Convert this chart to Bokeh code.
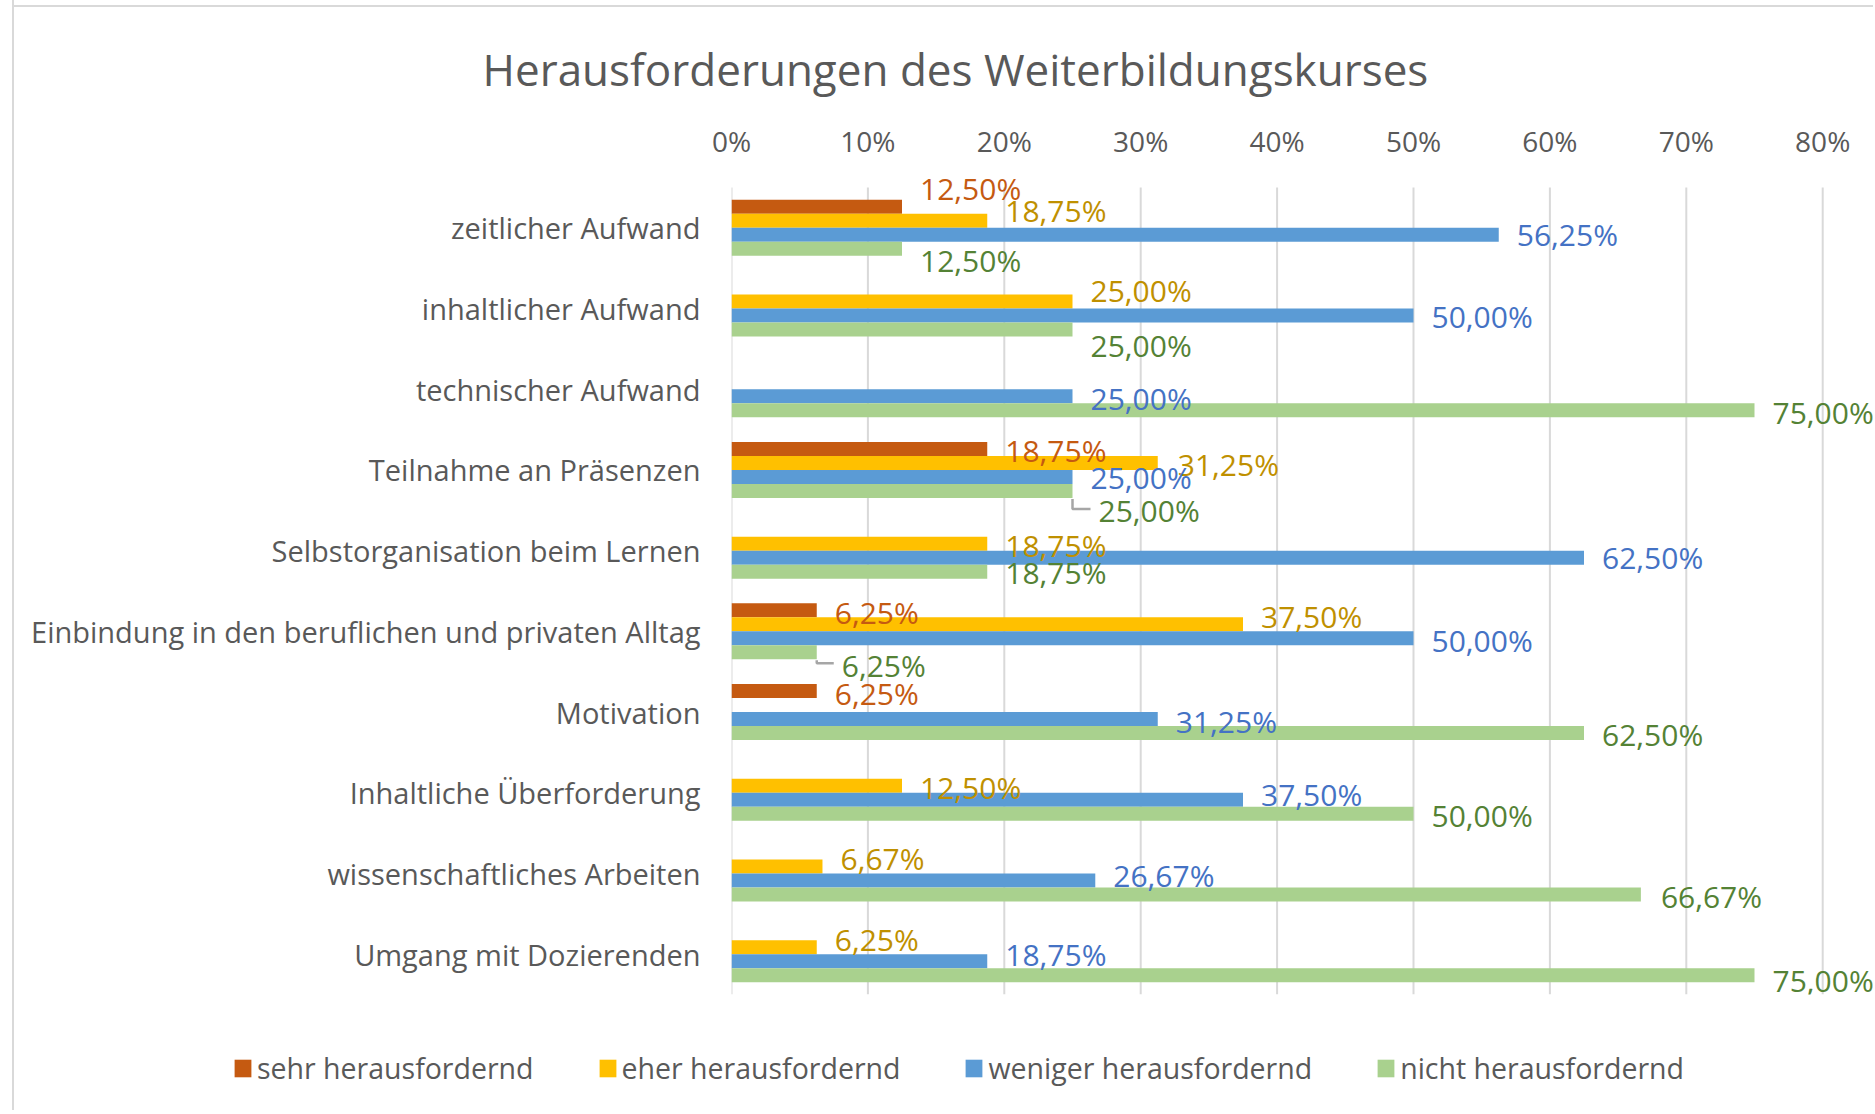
from bokeh.plotting import figure
from bokeh.models import (Range1d, FixedTicker, PrintfTickFormatter,
                          Legend, LegendItem, ColumnDataSource)
from bokeh.core.properties import value
from bokeh.embed import file_html
from bokeh.resources import INLINE

# ---------------- data ----------------
categories = [
    "zeitlicher Aufwand",
    "inhaltlicher Aufwand",
    "technischer Aufwand",
    "Teilnahme an Präsenzen",
    "Selbstorganisation beim Lernen",
    "Einbindung in den beruflichen und privaten Alltag",
    "Motivation",
    "Inhaltliche Überforderung",
    "wissenschaftliches Arbeiten",
    "Umgang mit Dozierenden",
]
series_names = ["sehr herausfordernd", "eher herausfordernd",
                "weniger herausfordernd", "nicht herausfordernd"]
sehr = [12.50, 0, 0, 18.75, 0, 6.25, 6.25, 0, 0, 0]
eher = [18.75, 25.00, 0, 31.25, 18.75, 37.50, 0, 12.50, 6.67, 6.25]
weniger = [56.25, 50.00, 25.00, 25.00, 62.50, 50.00, 31.25, 37.50, 26.67, 18.75]
nicht = [12.50, 25.00, 75.00, 25.00, 18.75, 6.25, 62.50, 50.00, 66.67, 75.00]
x_ticks = [0, 10, 20, 30, 40, 50, 60, 70, 80]
title_text = "Herausforderungen des Weiterbildungskurses"

# ---------------- styles ----------------
bar_colors = ["#C55A11", "#FFC000", "#5B9BD5", "#A9D18E"]
label_colors = ["#C55A11", "#BF9000", "#4472C4", "#548235"]
# label nudges in screen pixels (positive = down), per series and category
label_dy = [
    [-18, 2, 2, 2, 2, 2, 2, 2, 2, 2],
    [-10, -11, 2, 2, 2, -8, 2, 2, -8, -8],
    [0, 1, 2, 1, 0, 2, 2, -5, -5, -7],
    [12, 16, 2, 20, 1, 13, 1, 2, 2, 5],
]
label_dx = [
    [18, 18, 18, 18, 18, 18, 18, 18, 18, 18],
    [18, 18, 18, 20, 18, 18, 18, 18, 18, 18],
    [18, 18, 18, 18, 18, 18, 18, 18, 18, 18],
    [18, 18, 18, 26, 18, 25, 18, 18, 20, 18],
]
leaders = [(3, 3), (3, 5)]  # (series, category) with leader lines

W = 1861
LEFT, TOP, BOTTOM = 717, 165, 10
CAT_PX = 80.7
EXTRA_TOP = 22
n = len(categories)
FRAME_H = int(round(CAT_PX * n)) + EXTRA_TOP
H_MAIN = TOP + FRAME_H + BOTTOM
H_LEG = 106
frame_w = W - LEFT
px_per_pct = 13.64
x_end = frame_w / px_per_pct
y_top = n - 0.5 + EXTRA_TOP / CAT_PX
BAR_PX = 14
h = BAR_PX / CAT_PX

FONT = "Open Sans"
GREY = "#595959"
GRID = "#D9D9D9"
LABEL_FS = "29px"

p = figure(width=W, height=H_MAIN, output_backend="svg", toolbar_location=None,
           y_range=Range1d(-0.5, y_top), x_range=Range1d(0, x_end),
           x_axis_location="above",
           min_border_left=LEFT, min_border_top=TOP, min_border_bottom=BOTTOM,
           min_border_right=0)
p.outline_line_color = None
p.background_fill_color = "white"
p.border_fill_alpha = 0
p.styles = {"margin-left": "12px", "border-left": f"2px solid {GRID}",
            "background": f"linear-gradient({GRID}, {GRID}) 0 5px / 100% 2px no-repeat, white"}

# vertical grid lines spanning the category area
p.segment(x0=x_ticks, x1=x_ticks, y0=-0.5, y1=n - 0.5,
          line_color=GRID, line_width=2, level="underlay")

series_vals = [sehr, eher, weniger, nicht]
sources = []
for k, vals in enumerate(series_vals):
    off = (1.5 - k) * h
    rows = [i for i in range(n) if vals[i] > 0]
    src = ColumnDataSource(dict(
        y=[(n - 1 - i) + off for i in rows],
        val=[vals[i] for i in rows],
        lab=[f"{vals[i]:.2f}".replace(".", ",") + "%" for i in rows],
        dx=[label_dx[k][i] for i in rows],
        dy=[label_dy[k][i] for i in rows],
    ))
    sources.append(src)
    p.hbar(y="y", left=0, right="val", height=h, fill_color=bar_colors[k],
           line_color=None, source=src)

# leader lines
lx, ly = [], []
for (k, i) in leaders:
    v = series_vals[k][i]
    yb = (n - 1 - i) + (1.5 - k) * h
    y0 = yb - (BAR_PX / 2 + 1) / CAT_PX
    y1 = yb - (label_dy[k][i] - 2) / CAT_PX
    x1 = v + (label_dx[k][i] - 8) / px_per_pct
    lx.append([v, v, x1])
    ly.append([y0, y1, y1])
p.multi_line(xs=lx, ys=ly, line_color="#A6A6A6", line_width=2.5)

# data labels on top of all bars
for k, src in enumerate(sources):
    p.text(x="val", y="y", text="lab", x_offset="dx", y_offset="dy", source=src,
           text_font=value(FONT), text_font_size="30px",
           text_color=label_colors[k], text_align="left",
           text_baseline="middle")

# axes
p.xaxis.ticker = FixedTicker(ticks=x_ticks)
p.xaxis.formatter = PrintfTickFormatter(format="%d%%")
p.xaxis.axis_line_color = None
p.xaxis.major_tick_line_color = None
p.xaxis.minor_tick_line_color = None
p.xaxis.major_label_text_font = FONT
p.xaxis.major_label_text_font_size = "28px"
p.xaxis.major_label_text_color = GREY
p.xaxis.major_label_standoff = 0

p.yaxis.ticker = FixedTicker(ticks=list(range(n)))
p.yaxis.major_label_overrides = {n - 1 - i: categories[i] for i in range(n)}
p.yaxis.axis_line_color = None
p.yaxis.major_tick_line_color = None
p.yaxis.minor_tick_line_color = None
p.yaxis.major_tick_out = 0
p.yaxis.major_label_text_font = FONT
p.yaxis.major_label_text_font_size = LABEL_FS
p.yaxis.major_label_text_color = GREY
p.yaxis.major_label_standoff = 31

p.xgrid.visible = False
p.ygrid.visible = False

# title
p.title.text = title_text
p.title.align = "left"
p.title.offset = -249
p.title.standoff = 40
p.title.text_font = FONT
p.title.text_font_size = "44px"
p.title.text_font_style = "normal"
p.title.text_color = GREY

# legend (separate strip below the chart)
lf = figure(width=W, height=H_LEG, output_backend="svg", toolbar_location=None,
            x_axis_type=None, y_axis_type=None, min_border=0,
            x_range=Range1d(0, 1), y_range=Range1d(0, 1))
lf.outline_line_color = None
lf.grid.visible = False
lf.background_fill_color = "white"
lf.border_fill_color = "white"
lf.styles = {"margin-left": "12px", "border-left": f"2px solid {GRID}"}
leg_renderers = []
for k in range(4):
    leg_renderers.append(lf.hbar(y=[0], left=[0], right=[0], height=0,
                                 fill_color=bar_colors[k], line_color=None))
legend = Legend(items=[LegendItem(label=series_names[k], renderers=[leg_renderers[k]])
                       for k in range(4)],
                location=(218, 23), orientation="horizontal",
                glyph_width=21, glyph_height=22, label_standoff=4, spacing=63,
                padding=0, margin=0, border_line_color=None,
                background_fill_alpha=0,
                label_text_font=FONT, label_text_font_size="28.5px",
                label_text_color=GREY)
lf.add_layout(legend)

open("out.html", "w").write(file_html([p, lf], INLINE))
